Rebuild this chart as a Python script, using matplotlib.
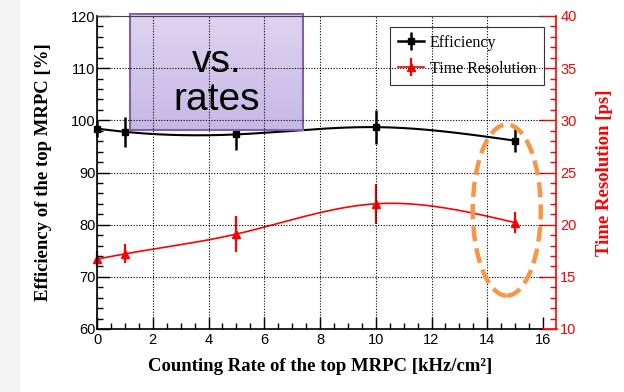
import numpy as np
import matplotlib
matplotlib.use("Agg")
import matplotlib.pyplot as plt
from matplotlib.patches import Ellipse, Rectangle
from matplotlib.lines import Line2D
from matplotlib.legend_handler import HandlerTuple
from matplotlib.colors import LinearSegmentedColormap
from matplotlib.ticker import MultipleLocator

# ---- data ----
rate = [0, 1, 5, 10, 15]
efficiency = [98.4, 97.8, 97.3, 98.7, 96.1]
efficiency_err = [1.6, 2.9, 2.9, 3.2, 2.2]
time_res = [16.7, 17.2, 19.1, 22.0, 20.2]
time_res_err = [0.8, 0.9, 1.7, 1.9, 1.0]

xlabel = "Counting Rate of the top MRPC [kHz/cm²]"
ylabel_left = "Efficiency of the top MRPC [%]"
ylabel_right = "Time Resolution [ps]"
legend_labels = ["Efficiency", "Time Resolution"]
box_lines = ["vs.", "rates"]


def natural_spline(x, y, xs):
    x = np.asarray(x, float); y = np.asarray(y, float)
    n = len(x)
    h = np.diff(x)
    A = np.zeros((n, n)); b = np.zeros(n)
    A[0, 0] = 1; A[-1, -1] = 1
    for i in range(1, n - 1):
        A[i, i - 1] = h[i - 1]
        A[i, i] = 2 * (h[i - 1] + h[i])
        A[i, i + 1] = h[i]
        b[i] = 3 * ((y[i + 1] - y[i]) / h[i] - (y[i] - y[i - 1]) / h[i - 1])
    c = np.linalg.solve(A, b)
    bb = np.zeros(n - 1); d = np.zeros(n - 1)
    for i in range(n - 1):
        bb[i] = (y[i + 1] - y[i]) / h[i] - h[i] * (2 * c[i] + c[i + 1]) / 3
        d[i] = (c[i + 1] - c[i]) / (3 * h[i])
    idx = np.clip(np.searchsorted(x, xs) - 1, 0, n - 2)
    dx = xs - x[idx]
    return y[idx] + bb[idx] * dx + c[idx] * dx ** 2 + d[idx] * dx ** 3


fig = plt.figure(figsize=(6.24, 3.92), dpi=100)
fig.patches.append(Rectangle((0, 0), 0.03, 1, transform=fig.transFigure,
                             color="#f4f4f4", zorder=0))

ax = fig.add_axes([97 / 624, 63 / 392, 446 / 624, 313 / 392])
ax.set_xlim(0, 16)
ax.set_ylim(60, 120)
ax.xaxis.set_major_locator(MultipleLocator(2))
ax.xaxis.set_minor_locator(MultipleLocator(0.5))
ax.yaxis.set_major_locator(MultipleLocator(10))
ax.yaxis.set_minor_locator(MultipleLocator(2))
ax.grid(True, which="major", color="black", linestyle=(0, (1, 1.5)), linewidth=0.8)
ax.tick_params(which="both", direction="in", top=False, right=False,
               labelsize=10.5, colors="black")
ax.tick_params(which="major", length=9, width=1)
ax.tick_params(which="minor", length=4.5, width=1)
ax.tick_params(axis="x", pad=3)
ax.tick_params(axis="y", pad=1)
for lab in ax.get_xticklabels() + ax.get_yticklabels():
    lab.set_fontfamily("Liberation Sans")
ax.spines["right"].set_visible(False)
ax.spines["top"].set_color("#444444")
for s in ("left", "bottom"):
    ax.spines[s].set_linewidth(1.2)

ax.set_xlabel(xlabel, fontfamily="Liberation Serif", fontweight="bold",
              fontsize=13.5, labelpad=8)
ax.set_ylabel(ylabel_left, fontfamily="Liberation Serif", fontweight="bold",
              fontsize=13.5, labelpad=14)

# right axis
ax2 = ax.twinx()
ax2.set_ylim(10, 40)
ax2.yaxis.set_major_locator(MultipleLocator(5))
ax2.yaxis.set_minor_locator(MultipleLocator(1))
ax2.spines["right"].set_position(("outward", 9.5))
ax2.spines["right"].set_color("red")
ax2.spines["right"].set_linewidth(1.2)
for s in ("left", "top", "bottom"):
    ax2.spines[s].set_visible(False)
ax2.tick_params(which="both", direction="in", colors="red", labelsize=10.5, pad=3)
ax2.tick_params(which="major", length=12, width=1)
ax2.tick_params(which="minor", length=4.5, width=1)
for lab in ax2.get_yticklabels():
    lab.set_fontfamily("Liberation Sans")
ax2.set_ylabel(ylabel_right, fontfamily="Liberation Serif", fontweight="bold",
               fontsize=13.5, color="red", labelpad=14)
ax.plot([1, 1 + 13.5 / 446], [0, 0], transform=ax.transAxes, color="red",
        lw=1.2, clip_on=False, zorder=5)

# curves
xs = np.linspace(rate[0], rate[-1], 300)
ax2.plot(xs, natural_spline(rate, time_res, xs), color="red", lw=1.2, zorder=3)
ax2.errorbar(rate, time_res, yerr=time_res_err, fmt="^", color="red",
             markersize=6, elinewidth=1.6, capsize=0, zorder=4, clip_on=False)
ax2.plot(xs, natural_spline(rate, efficiency, xs) * 0.5 - 20, color="black",
         lw=1.5, zorder=3)
ax2.errorbar(rate, np.array(efficiency) * 0.5 - 20,
             yerr=np.array(efficiency_err) * 0.5, fmt="s", color="black",
             markersize=4.5, elinewidth=1.8, capsize=0, zorder=4, clip_on=False)

# legend
h_eff = (Line2D([], [], color="black", lw=1.8),
         Line2D([], [], color="black", marker="|", markersize=13, mew=1.8, ls="none"),
         Line2D([], [], color="black", marker="s", markersize=4.5, ls="none"))
h_tr = (Line2D([], [], color="red", lw=1.2),
        Line2D([], [], color="red", marker="|", markersize=13, mew=1.6, ls="none"),
        Line2D([], [], color="red", marker="^", markersize=6, ls="none"))
leg = ax2.legend([h_eff, h_tr], legend_labels,
                 handler_map={tuple: HandlerTuple(ndivide=1)},
                 loc="upper left", bbox_to_anchor=(0.657, 0.965),
                 borderaxespad=0, fancybox=False, framealpha=1,
                 edgecolor="#333333", handlelength=1.6, handletextpad=0.4,
                 borderpad=0.5, labelspacing=0.6,
                 prop={"family": "Liberation Serif", "size": 11.5})
leg.get_frame().set_linewidth(0.8)
leg.set_zorder(6)

# orange dashed ellipse
ell = Ellipse((14.7, 82.8), 2.44, 32.8, fill=False, edgecolor="#f79646",
              lw=3.2, linestyle=(0, (3.4, 1.6)), zorder=7, clip_on=False)
ax.add_patch(ell)
ax.set_zorder(ax2.get_zorder() + 1)
ax.patch.set_visible(False)

# purple text box
bax = fig.add_axes([130 / 624, (392 - 130) / 392, 173 / 624, 116 / 392])
cmap = LinearSegmentedColormap.from_list("lav", ["#ddd4f0", "#c8b7e6"])
bax.imshow(np.linspace(0, 1, 64).reshape(-1, 1), cmap=cmap, aspect="auto",
           extent=[0, 1, 0, 1])
bax.set_xticks([]); bax.set_yticks([])
for s in bax.spines.values():
    s.set_color("#8064a2"); s.set_linewidth(1.5)
bax.text(0.5, 0.50, box_lines[0], ha="center", va="baseline",
         fontsize=28, fontfamily="Liberation Sans", transform=bax.transAxes)
bax.text(0.5, 0.175, box_lines[1], ha="center", va="baseline",
         fontsize=28, fontfamily="Liberation Sans", transform=bax.transAxes)

fig.savefig("out.png", dpi=100)
